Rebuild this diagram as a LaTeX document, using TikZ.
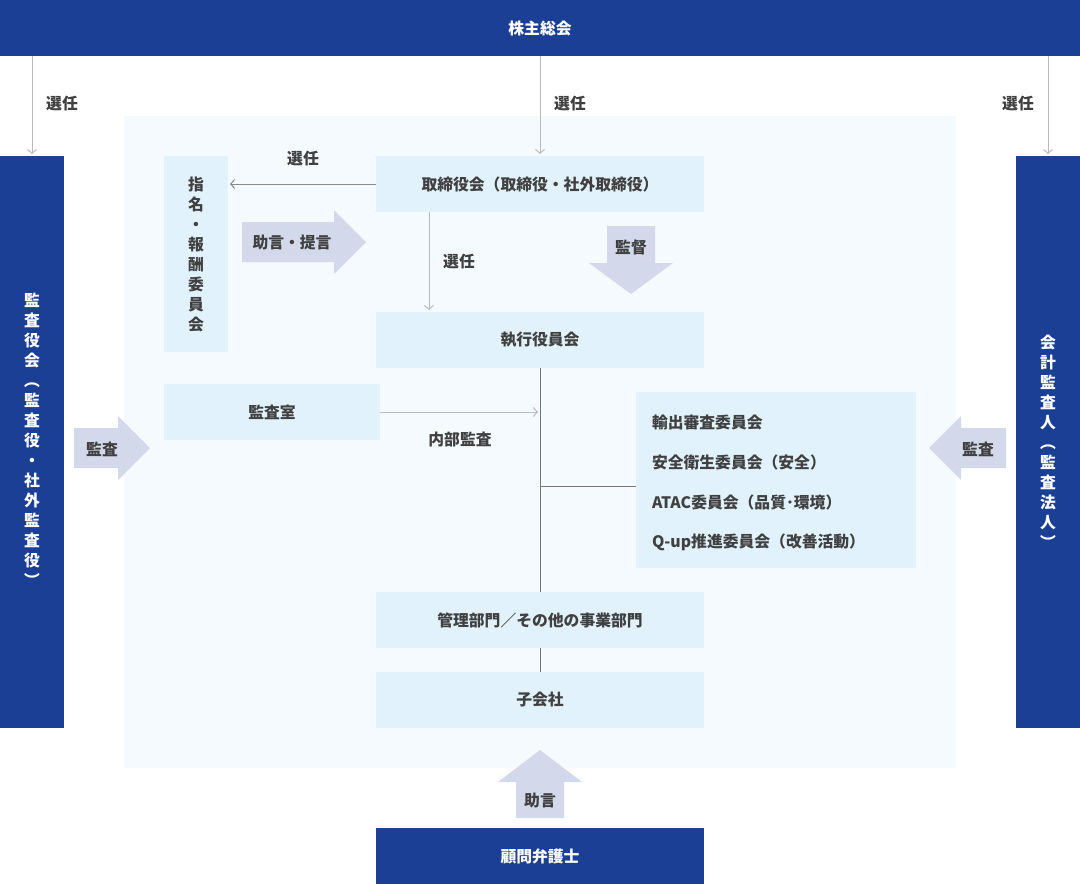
\documentclass[tikz,border=0pt]{standalone}
\usepackage{fontspec}
\setmainfont{Noto Sans CJK JP}
\usetikzlibrary{arrows.meta}
\definecolor{navy}{HTML}{1B3F95}
\definecolor{bgl}{HTML}{F5FAFE}
\definecolor{boxc}{HTML}{E1F2FD}
\definecolor{arrc}{HTML}{D3D9EA}
\definecolor{txt}{HTML}{404040}
\definecolor{lineA}{HTML}{BBBBBB}
\definecolor{lineB}{HTML}{888888}
\definecolor{lineC}{HTML}{777777}
\begin{document}
\begin{tikzpicture}[x=1pt,y=-1pt,
  every node/.style={font=\fontsize{15.8}{20}\selectfont\bfseries, text=txt, inner sep=0pt, outer sep=0pt},
  navybox/.style={fill=navy, text=white},
  lbox/.style={fill=boxc},
  vtext/.style={align=center},
  blockarrow/.style={fill=arrc, draw=none},
  conn/.style={line width=1pt, -{Straight Barb[length=4pt,width=9pt,line width=1pt]}, shorten >=2pt},
  connA/.style={conn, draw=lineA},
  connB/.style={conn, draw=lineB},
  plain/.style={line width=1pt, draw=lineC}
]
\useasboundingbox (0,0) rectangle (1080,884);
\fill[white] (0,0) rectangle (1080,884);
% background area
\node[fill=bgl, minimum width=832pt, minimum height=652pt] (bg) at (540,442) {};

% navy bars
\node[navybox, minimum width=1080pt, minimum height=56pt] (gm) at (540,28) {株主総会};
\node[navybox, minimum width=64pt, minimum height=572pt] (lb) at (32,442) {};
\node[vtext, text=white] (lbt) at (32,440)
  {監\\査\\役\\会\\︵\\監\\査\\役\\・\\社\\外\\監\\査\\役\\︶};
\node[navybox, minimum width=64pt, minimum height=572pt, vtext] (rb) at (1048,442)
  {会\\計\\監\\査\\人\\︵\\監\\査\\法\\人\\︶};
\node[navybox, minimum width=328pt, minimum height=56pt] (law) at (540,856) {顧問弁護士};

% light boxes
\node[lbox, minimum width=328pt, minimum height=56pt] (tb) at (540,184) {取締役会（取締役・社外取締役）};
\node[lbox, minimum width=64pt, minimum height=196pt, vtext] (nom) at (196,254) {指\\名\\・\\報\\酬\\委\\員\\会};
\node[lbox, minimum width=328pt, minimum height=56pt] (ex) at (540,340) {執行役員会};
\node[lbox, minimum width=216pt, minimum height=56pt] (ar) at (272,412) {監査室};
\node[lbox, minimum width=280pt, minimum height=176pt] (cm) at (776,480) {};
\node[anchor=west] (c1) at (652,422) {輸出審査委員会};
\node[anchor=west] (c2) at (652,462) {安全衛生委員会（安全）};
\node[anchor=west] (c3) at (652,502) {ATAC委員会（品質･環境）};
\node[anchor=west] (c4) at (652,542) {Q-up推進委員会（改善活動）};
\node[lbox, minimum width=328pt, minimum height=56pt] (mg) at (540,620) {管理部門／その他の事業部門};
\node[lbox, minimum width=328pt, minimum height=56pt] (sub) at (540,700) {子会社};

% block arrows
\path[blockarrow] (242,222) -- (334,222) -- (334,210) -- (366,242) -- (334,274) -- (334,262) -- (242,262) -- cycle;
\node (adv1) at (292,242) {助言・提言};
\path[blockarrow] (607,226) -- (655,226) -- (655,263) -- (673,263) -- (631,294) -- (589,263) -- (607,263) -- cycle;
\node (sup) at (631,247) {監督};
\path[blockarrow] (74,428) -- (118,428) -- (118,416) -- (150,448) -- (118,480) -- (118,468) -- (74,468) -- cycle;
\node (aud1) at (102,449) {監査};
\path[blockarrow] (1006,428) -- (961,428) -- (961,416) -- (929,448) -- (961,480) -- (961,468) -- (1006,468) -- cycle;
\node (aud2) at (978,449) {監査};
\path[blockarrow] (516,818) -- (516,782) -- (498,782) -- (540,750) -- (582,782) -- (564,782) -- (564,818) -- cycle;
\node (adv2) at (540,800) {助言};

% connectors
\coordinate (x429) at (429,0);
\coordinate (br) at (540,486);
\draw[connA] (gm.south -| lb.north) -- (lb.north);
\draw[connA] (gm.south) -- (tb.north);
\draw[connA] (gm.south -| rb.north) -- (rb.north);
\draw[connB] (tb.west) -- (tb.west -| nom.east);
\draw[connA] (tb.south -| x429) -- (ex.north -| x429);
\draw[connA] (ar.east) -- (ar.east -| ex.south);
\draw[plain] (ex.south) -- (mg.north);
\draw[plain] (br) -- (br -| cm.west);
\draw[plain] (mg.south) -- (sub.north);

% labels
\node (l1) at (62,104) {選任};
\node (l2) at (570,104) {選任};
\node (l3) at (1018,104) {選任};
\node (l4) at (303,159) {選任};
\node (l5) at (459,262) {選任};
\node (l6) at (460,440) {内部監査};
\end{tikzpicture}
\end{document}
